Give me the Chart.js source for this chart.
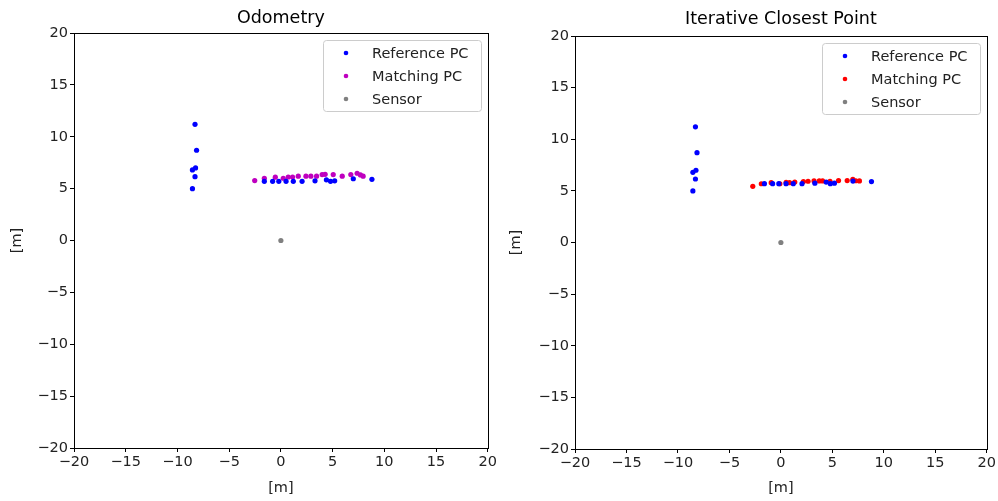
<!DOCTYPE html>
<html>
<head>
<meta charset="utf-8">
<script src="https://cdn.jsdelivr.net/npm/chart.js@4.4.1/dist/chart.umd.min.js"></script>
<style>
  html, body { margin: 0; padding: 0; background: #fff; }
  #wrap { position: relative; width: 998px; height: 501px; }
  .box { position: absolute; top: 0; height: 501px; width: 499px; }
  #b1 { left: 0; }
  #b2 { left: 499px; }
</style>
</head>
<body>
<div id="wrap">
  <div class="box" id="b1"><canvas id="c1"></canvas></div>
  <div class="box" id="b2"><canvas id="c2"></canvas></div>
</div>
<script>
// Reference point cloud (shared by both panels)
const refX = [-8.3, -8.15, -8.55, -8.25, -8.3, -8.55, -1.6, -0.8, -0.2, 0.5, 1.2, 2.05, 3.3, 4.4, 4.8, 5.2, 7.0, 8.8];
const refY = [11.2, 8.7, 6.8, 7.0, 6.15, 5.0, 5.7, 5.7, 5.7, 5.7, 5.7, 5.7, 5.75, 5.85, 5.7, 5.75, 5.95, 5.9];

// Matching cloud placed with odometry
const odomX = [-2.53, -1.6, -0.54, 0.23, 0.71, 1.13, 1.68, 2.42, 2.9, 3.45, 3.99, 4.28, 5.06, 5.93, 6.76, 7.37, 7.69, 7.95];
const odomY = [5.78, 6.0, 6.1, 6.0, 6.12, 6.12, 6.2, 6.2, 6.2, 6.2, 6.35, 6.38, 6.35, 6.2, 6.35, 6.48, 6.32, 6.2];

// Matching cloud after ICP alignment
const icpX = [-2.73, -1.9, -0.94, -0.1, 0.51, 0.84, 1.35, 2.19, 2.64, 3.22, 3.73, 4.05, 4.77, 5.6, 6.44, 6.99, 7.28, 7.63];
const icpY = [5.44, 5.69, 5.79, 5.69, 5.83, 5.79, 5.86, 5.9, 5.93, 5.96, 5.96, 5.96, 5.93, 6.0, 6.0, 6.12, 5.98, 5.96];

// Sensor origin
const sensorX = [0];
const sensorY = [0];

const tickValues = [-20, -15, -10, -5, 0, 5, 10, 15, 20];
const titles = ['Odometry', 'Iterative Closest Point'];
const seriesLabels = ['Reference PC', 'Matching PC', 'Sensor'];
const matchColors = ['#bf00bf', '#ff0000'];

const FONT = 'DejaVu Sans, sans-serif';
const FS = 14.5;

function pts(xs, ys) { return xs.map((x, i) => ({ x: x, y: ys[i] })); }
function fmt(v) { return String(v).replace('-', '\u2212'); }

// frame around the plotting area, title centred over it, legend inside it
const framePlugin = {
  id: 'frameLegend',
  afterDatasetsDraw(chart, args, opts) {
    const ctx = chart.ctx, a = chart.chartArea;
    ctx.save();
    ctx.strokeStyle = '#000';
    ctx.lineWidth = 1;
    ctx.strokeRect(Math.round(a.left) + 0.5, Math.round(a.top) + 0.5,
                   Math.round(a.right - a.left), Math.round(a.bottom - a.top));
    // title
    ctx.fillStyle = '#000';
    ctx.font = '17.5px ' + FONT;
    ctx.textAlign = 'center';
    ctx.textBaseline = 'middle';
    ctx.fillText(opts.text, (a.left + a.right) / 2, opts.y);
    // legend
    ctx.textAlign = 'left';
    const w = 158, h = 71;
    const x0 = Math.round(a.right) - 7 - w, y0 = Math.round(a.top) + 7;
    ctx.fillStyle = 'rgba(255,255,255,0.8)';
    ctx.strokeStyle = '#cccccc';
    ctx.beginPath();
    ctx.roundRect(x0 + 0.5, y0 + 0.5, w, h, 3);
    ctx.fill();
    ctx.stroke();
    ctx.font = FS + 'px ' + FONT;
    chart.data.datasets.forEach((ds, i) => {
      const cy = y0 + 13 + i * 23;
      ctx.fillStyle = ds.backgroundColor;
      ctx.beginPath();
      ctx.arc(x0 + 23, cy, 2.3, 0, Math.PI * 2);
      ctx.fill();
      ctx.fillStyle = '#222';
      ctx.fillText(ds.label, x0 + 49, cy + 1);
    });
    ctx.restore();
  }
};

function makeChart(id, idx, mx, my, geom) {
  const ds = [
    { label: seriesLabels[0], data: pts(refX, refY), backgroundColor: '#0000ff' },
    { label: seriesLabels[1], data: pts(mx, my), backgroundColor: matchColors[idx] },
    { label: seriesLabels[2], data: pts(sensorX, sensorY), backgroundColor: '#808080' }
  ];
  ds.forEach(d => { d.pointRadius = 2.6; d.pointBorderWidth = 0; d.borderWidth = 0; d.pointHoverRadius = 2.6; });

  const axisCommon = {
    type: 'linear', min: -20, max: 20,
    grid: { drawOnChartArea: false, drawTicks: true, tickLength: 4, color: '#000', tickWidth: 1 },
    border: { display: true, color: '#000', width: 1 },
    ticks: {
      stepSize: 5, color: '#222', font: { family: FONT, size: FS }, padding: 2,
      callback: v => fmt(v)
    },
    afterBuildTicks: s => { s.ticks = tickValues.map(v => ({ value: v })); },
    title: { display: true, text: '[m]', color: '#222', font: { family: FONT, size: FS } }
  };

  return new Chart(document.getElementById(id), {
    type: 'scatter',
    data: { datasets: ds },
    options: {
      responsive: true, maintainAspectRatio: false, animation: false,
      devicePixelRatio: 1,
      layout: { padding: { left: 0, right: geom.right, top: geom.top, bottom: 0 } },
      plugins: {
        legend: { display: false },
        tooltip: { enabled: false },
        title: { display: false },
        frameLegend: { text: titles[idx], y: geom.titleY }
      },
      scales: {
        x: Object.assign({}, axisCommon, {
          title: Object.assign({}, axisCommon.title, { padding: { top: 0, bottom: 4.3 } }),
          afterFit: s => { s.height = geom.bottom; }
        }),
        y: Object.assign({}, axisCommon, {
          title: Object.assign({}, axisCommon.title, { padding: { top: 9, bottom: 0 } }),
          afterFit: s => { s.width = geom.left; }
        })
      }
    },
    plugins: [framePlugin]
  });
}

makeChart('c1', 0, odomX, odomY, { left: 74, right: 10, top: 33, bottom: 53, titleY: 18 });
makeChart('c2', 1, icpX, icpY, { left: 76, right: 9, top: 36, bottom: 52, titleY: 19 });
</script>
</body>
</html>
